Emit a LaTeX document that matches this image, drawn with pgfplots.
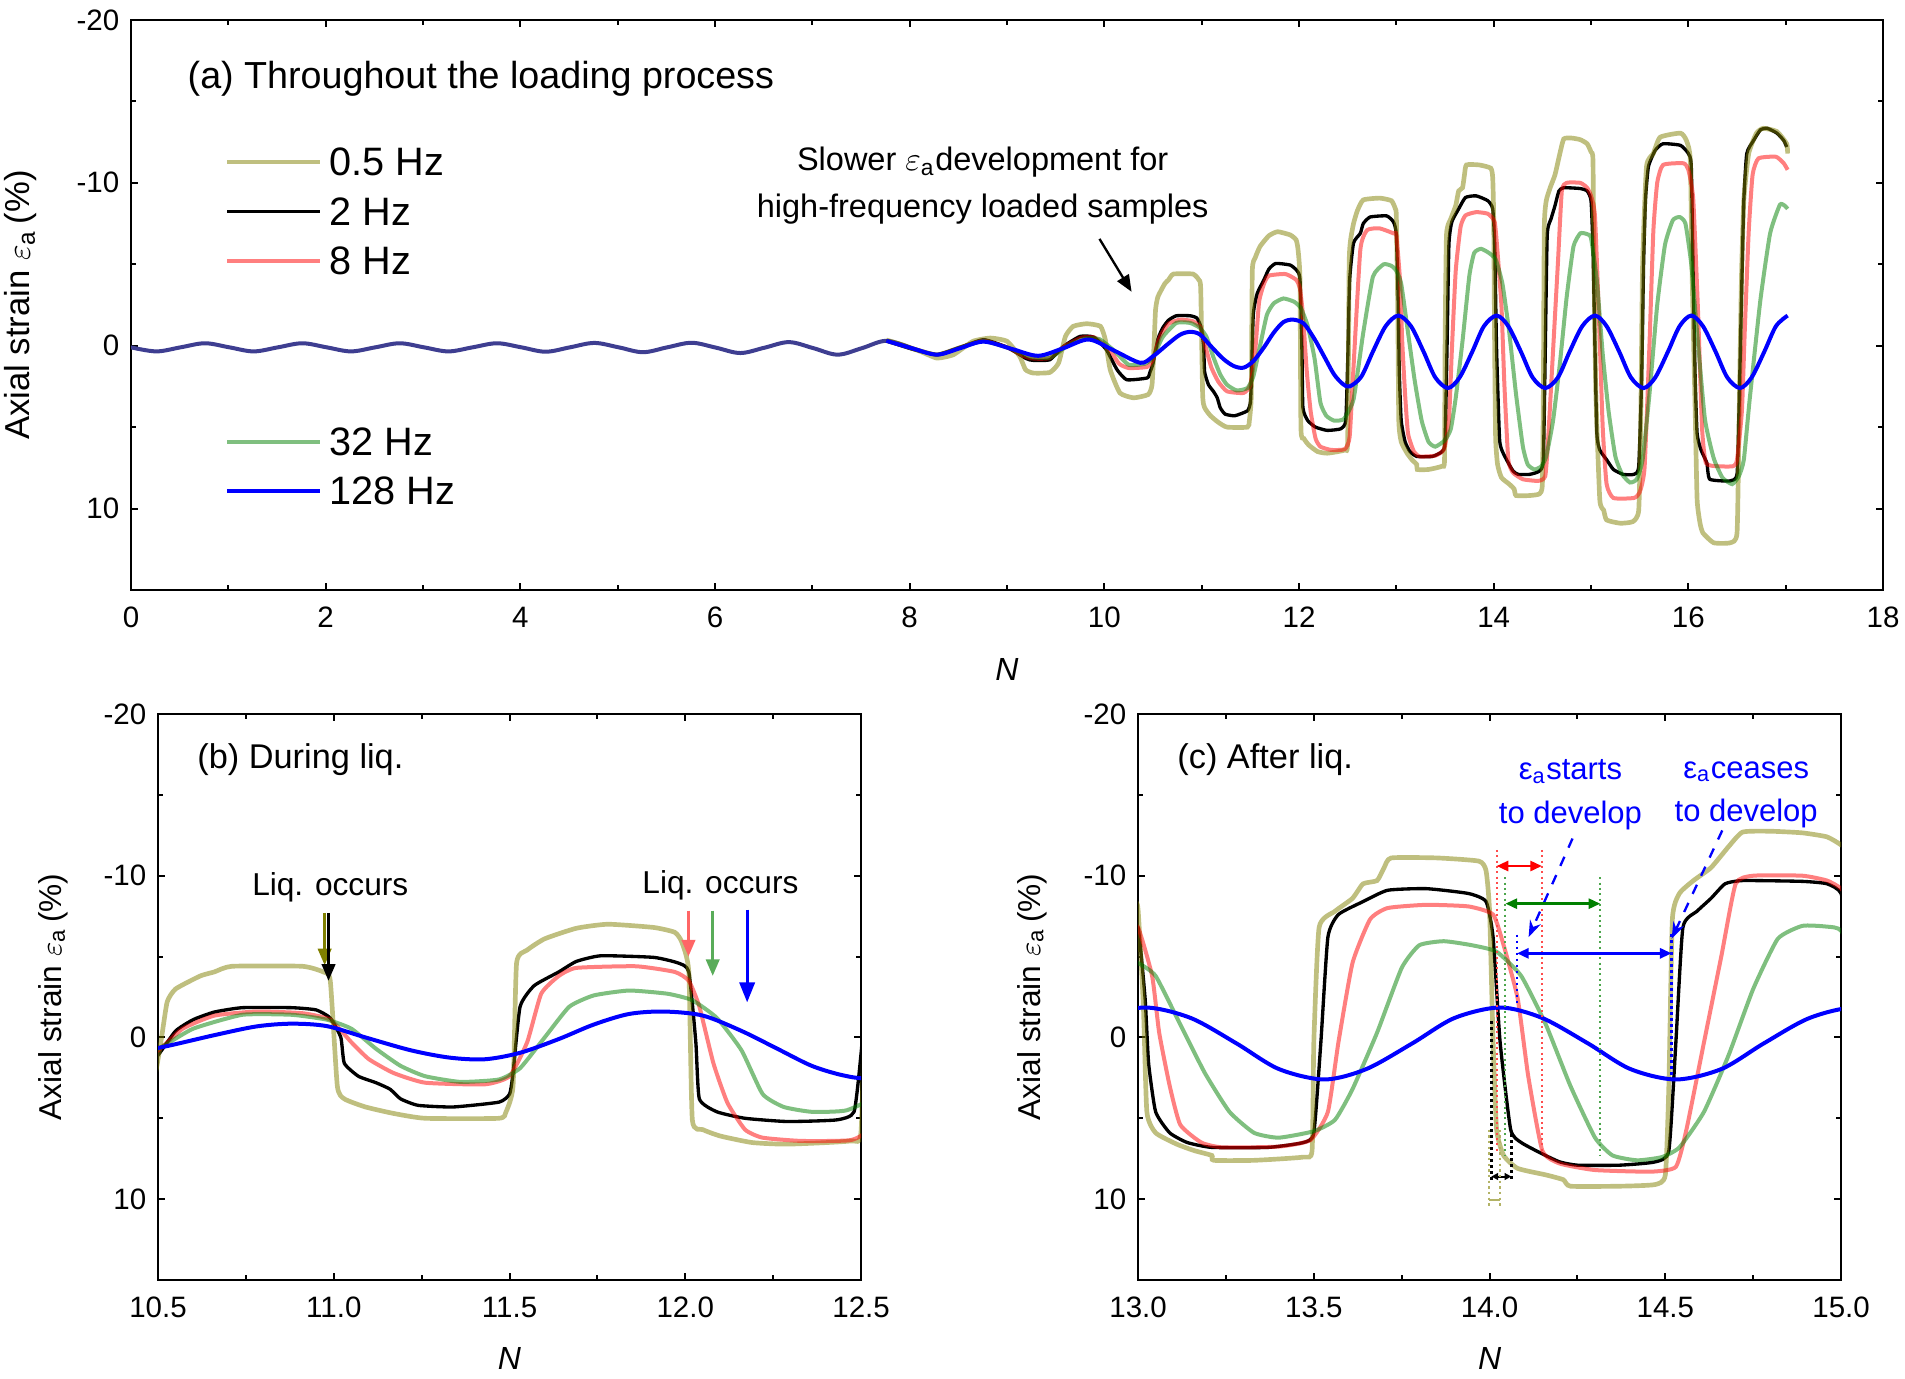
\documentclass[border=0pt]{standalone}
\usepackage{fontspec}
\setmainfont{Liberation Sans}
\usepackage{pgfplots}
\pgfplotsset{compat=1.18}
\usepackage{pgfplotstable}
\usetikzlibrary{arrows.meta}

\definecolor{colO}{RGB}{128,128,0}
\definecolor{colR}{RGB}{255,0,0}
\definecolor{colG}{RGB}{0,128,0}
\definecolor{colB}{RGB}{0,0,255}
\definecolor{colE}{RGB}{62,62,145}

\pgfplotstableread{
N s
0.00 0.10
0.26 0.35
0.51 0.10
0.76 -0.15
1.01 0.10
1.26 0.35
1.51 0.10
1.76 -0.15
2.01 0.10
2.26 0.35
2.51 0.10
2.76 -0.15
3.01 0.10
3.26 0.35
3.51 0.10
3.76 -0.15
4.01 0.10
4.26 0.37
4.51 0.10
4.76 -0.17
5.01 0.10
5.26 0.40
5.51 0.10
5.76 -0.18
6.01 0.12
6.26 0.45
6.51 0.12
6.76 -0.22
7.01 0.15
7.26 0.55
7.51 0.15
7.76 -0.30
8.02 0.15
}\dearly

\pgfplotstableread{
N s
7.76 -0.35
7.90 -0.10
8.11 0.35
8.28 0.76
8.45 0.55
8.65 -0.27
8.83 -0.47
9.00 -0.27
9.13 0.65
9.19 1.47
9.27 1.68
9.44 1.64
9.53 1.06
9.60 -0.57
9.68 -1.19
9.82 -1.35
9.96 -1.19
10.01 -0.37
10.06 1.47
10.16 2.90
10.30 3.20
10.45 3.00
10.49 2.40
10.51 0.00
10.526 -2.20
10.55 -3.00
10.62 -3.80
10.66 -4.05
10.71 -4.40
10.91 -4.40
10.97 -4.05
10.99 -3.50
11.01 3.00
11.03 3.80
11.09 4.30
11.17 4.70
11.26 5.00
11.47 5.00
11.49 4.60
11.51 3.00
11.52 -4.60
11.55 -5.40
11.60 -6.10
11.69 -6.75
11.78 -7.00
11.91 -6.80
11.97 -6.50
11.99 -5.90
12.01 -4.05
12.02 5.10
12.05 5.70
12.10 6.10
12.19 6.50
12.29 6.60
12.47 6.40
12.50 5.80
12.515 -5.00
12.53 -6.50
12.56 -7.50
12.60 -8.30
12.66 -8.95
12.83 -9.06
12.95 -8.90
12.99 -8.40
13.00 -7.90
13.015 -2.00
13.025 4.60
13.05 5.90
13.11 6.60
13.16 7.00
13.21 7.30
13.215 7.60
13.33 7.60
13.47 7.40
13.495 7.00
13.50 0.30
13.515 -6.80
13.56 -7.80
13.61 -8.60
13.64 -9.50
13.68 -9.70
13.70 -10.50
13.72 -11.10
13.85 -11.10
13.97 -10.90
13.99 -10.30
14.00 -7.80
14.01 0.30
14.02 5.70
14.04 7.30
14.08 8.10
14.16 8.50
14.21 8.80
14.23 9.20
14.37 9.20
14.47 9.10
14.50 8.50
14.51 3.00
14.52 -7.30
14.54 -8.90
14.58 -9.70
14.63 -10.50
14.68 -11.80
14.72 -12.70
14.80 -12.75
14.89 -12.65
14.96 -12.40
15.00 -11.90
15.02 -11.40
15.03 -5.00
15.05 3.00
15.09 9.45
15.13 10.10
15.16 10.70
15.30 10.90
15.43 10.80
15.49 10.10
15.51 5.00
15.53 -5.00
15.57 -11.00
15.64 -11.80
15.71 -12.80
15.92 -13.05
15.98 -12.60
16.02 -11.40
16.04 -4.00
16.07 4.00
16.09 9.45
16.12 10.90
16.15 11.50
16.26 12.10
16.43 12.10
16.50 11.50
16.52 5.00
16.545 -4.00
16.57 -8.95
16.62 -11.80
16.70 -13.05
16.77 -13.35
16.91 -13.15
17.01 -12.40
17.02 -11.80
}\dolive

\pgfplotstableread{
N s
7.76 -0.30
8.02 0.20
8.28 0.55
8.52 0.10
8.76 -0.37
9.00 0.10
9.20 0.80
9.27 0.90
9.44 0.86
9.58 0.04
9.75 -0.57
9.89 -0.53
10.02 0.24
10.13 1.47
10.23 2.09
10.44 1.98
10.47 1.60
10.50 1.10
10.55 -0.40
10.60 -1.10
10.66 -1.57
10.74 -1.84
10.88 -1.84
10.95 -1.70
10.99 -1.20
11.02 0.00
11.03 1.60
11.07 2.40
11.12 2.80
11.16 3.20
11.19 3.80
11.24 4.20
11.34 4.30
11.47 4.00
11.50 3.50
11.51 2.20
11.53 -1.90
11.57 -3.20
11.64 -4.05
11.69 -4.70
11.76 -5.05
11.91 -4.95
11.98 -4.60
12.01 -4.05
12.03 0.30
12.04 3.80
12.09 4.60
12.17 5.00
12.29 5.20
12.43 5.10
12.48 4.60
12.50 1.00
12.52 -4.00
12.56 -6.30
12.63 -6.90
12.66 -7.50
12.73 -7.90
12.90 -7.97
12.97 -7.60
13.00 -6.80
13.02 -2.40
13.03 1.60
13.05 4.60
13.09 5.90
13.14 6.50
13.21 6.80
13.37 6.80
13.47 6.50
13.50 5.90
13.52 0.30
13.54 -6.20
13.57 -7.60
13.64 -8.40
13.71 -9.10
13.82 -9.20
13.94 -8.90
13.99 -8.40
14.01 -6.20
14.03 0.30
14.06 5.70
14.09 6.50
14.15 7.20
14.20 7.70
14.25 7.90
14.37 7.90
14.47 7.70
14.51 7.00
14.53 0.30
14.55 -6.80
14.59 -7.80
14.63 -8.60
14.67 -9.50
14.72 -9.70
14.89 -9.65
14.96 -9.50
15.00 -8.90
15.02 -6.00
15.04 0.00
15.06 5.40
15.09 6.40
15.16 7.00
15.23 7.60
15.33 7.90
15.44 7.90
15.49 7.40
15.52 2.00
15.54 -5.00
15.56 -9.00
15.59 -11.00
15.66 -12.00
15.74 -12.40
15.92 -12.30
16.00 -11.80
16.03 -11.00
16.05 -4.00
16.07 2.00
16.09 5.40
16.13 6.40
16.19 7.20
16.22 8.20
16.43 8.30
16.50 7.90
16.52 4.00
16.55 -4.00
16.57 -8.95
16.60 -11.80
16.67 -12.60
16.74 -13.25
16.81 -13.35
16.91 -13.05
16.98 -12.60
17.01 -12.20
}\dblack

\pgfplotstableread{
N s
7.76 -0.30
8.02 0.15
8.28 0.55
8.52 0.10
8.76 -0.30
9.00 0.10
9.20 0.70
9.30 0.80
9.44 0.75
9.60 0.00
9.77 -0.50
9.90 -0.50
10.05 0.20
10.15 1.10
10.25 1.37
10.44 1.30
10.50 0.80
10.57 -0.54
10.66 -1.35
10.78 -1.60
10.91 -1.50
10.99 -1.10
11.05 0.30
11.10 1.35
11.17 2.20
11.26 2.80
11.43 2.90
11.50 2.40
11.55 0.30
11.59 -2.70
11.64 -3.80
11.69 -4.30
11.86 -4.40
11.97 -4.05
12.01 -3.50
12.04 -1.90
12.08 1.60
12.12 4.05
12.17 5.70
12.22 6.20
12.33 6.40
12.47 6.35
12.52 5.60
12.56 1.30
12.63 -5.90
12.70 -7.10
12.83 -7.20
12.97 -6.90
13.00 -6.80
13.04 -3.80
13.06 -0.30
13.09 3.00
13.12 5.40
13.18 6.50
13.24 6.80
13.40 6.75
13.49 6.35
13.54 4.60
13.57 0.30
13.61 -4.60
13.66 -7.30
13.71 -8.00
13.82 -8.20
13.94 -8.10
14.01 -7.60
14.04 -5.70
14.08 -2.40
14.11 2.40
14.15 7.00
14.20 7.80
14.30 8.20
14.46 8.30
14.53 8.00
14.56 5.70
14.61 0.30
14.66 -5.10
14.70 -9.50
14.75 -10.00
14.89 -10.00
14.96 -9.70
15.00 -9.20
15.04 -8.00
15.08 -2.00
15.12 5.00
15.16 8.50
15.23 9.35
15.44 9.35
15.50 9.00
15.55 7.50
15.60 0.00
15.64 -7.00
15.68 -10.00
15.74 -11.10
15.95 -11.20
16.00 -10.80
16.05 -9.00
16.10 -2.00
16.14 5.00
16.18 7.20
16.30 7.40
16.46 7.40
16.50 7.00
16.55 4.00
16.58 -1.00
16.62 -7.00
16.66 -10.50
16.72 -11.50
16.90 -11.60
16.98 -11.20
17.02 -10.80
}\dred

\pgfplotstableread{
N s
7.76 -0.30
8.02 0.15
8.28 0.55
8.52 0.10
8.76 -0.28
9.02 0.15
9.25 0.70
9.45 0.72
9.62 0.00
9.80 -0.45
9.95 -0.40
10.10 0.30
10.25 1.17
10.42 1.10
10.50 0.70
10.60 -0.54
10.74 -1.40
10.88 -1.40
10.98 -1.10
11.05 -0.54
11.12 0.70
11.19 1.76
11.26 2.40
11.36 2.75
11.47 2.60
11.53 1.90
11.60 0.00
11.67 -1.90
11.74 -2.60
11.84 -2.90
11.95 -2.70
12.02 -2.30
12.09 -1.20
12.16 0.80
12.22 3.50
12.28 4.30
12.36 4.60
12.46 4.50
12.56 3.30
12.66 -0.80
12.76 -4.25
12.87 -5.00
12.95 -4.90
13.00 -4.60
13.05 -3.80
13.12 -0.80
13.19 2.20
13.26 4.60
13.33 5.90
13.40 6.20
13.50 5.80
13.56 5.10
13.61 3.20
13.68 -0.30
13.75 -4.30
13.80 -5.70
13.87 -5.95
13.95 -5.70
14.02 -5.30
14.09 -3.80
14.16 -0.80
14.23 3.00
14.30 6.20
14.35 7.30
14.42 7.60
14.49 7.40
14.54 6.80
14.61 4.60
14.68 1.10
14.75 -3.00
14.82 -6.10
14.89 -6.90
14.96 -6.85
15.00 -6.60
15.06 -4.00
15.12 0.50
15.18 4.00
15.25 6.80
15.32 7.90
15.40 8.40
15.47 8.20
15.53 7.00
15.60 3.00
15.68 -2.50
15.76 -6.20
15.84 -7.70
15.91 -7.90
15.97 -7.50
16.03 -5.00
16.09 -0.80
16.17 4.50
16.26 6.90
16.35 8.10
16.45 8.50
16.52 8.00
16.57 7.00
16.63 3.30
16.74 -2.80
16.84 -6.90
16.94 -8.65
16.99 -8.60
17.02 -8.40
}\dgreen

\pgfplotstableread{
N s
7.76 -0.30
8.02 0.15
8.28 0.55
8.52 0.15
8.76 -0.25
9.05 0.20
9.32 0.62
9.58 0.15
9.84 -0.38
10.10 0.30
10.37 1.05
10.50 0.65
10.66 -0.14
10.78 -0.68
10.88 -0.85
10.98 -0.70
11.09 0.00
11.22 0.80
11.33 1.25
11.43 1.35
11.53 0.95
11.64 0.10
11.74 -0.80
11.84 -1.45
11.94 -1.60
12.05 -1.35
12.16 -0.40
12.26 0.68
12.36 1.76
12.45 2.35
12.52 2.50
12.64 1.90
12.76 0.35
12.89 -1.20
13.02 -1.85
13.15 -1.20
13.28 0.37
13.40 1.95
13.53 2.60
13.65 1.95
13.78 0.37
13.90 -1.20
14.03 -1.85
14.15 -1.20
14.28 0.37
14.40 1.95
14.53 2.60
14.66 1.95
14.78 0.37
14.91 -1.20
15.04 -1.85
15.16 -1.20
15.29 0.37
15.41 1.95
15.54 2.60
15.66 1.95
15.79 0.37
15.91 -1.20
16.03 -1.85
16.15 -1.20
16.28 0.37
16.40 1.95
16.53 2.60
16.65 1.95
16.78 0.37
16.90 -1.20
17.02 -1.85
}\dblue

\newcommand{\plotall}{%
  \addplot[colE, line width=1.2pt, smooth, tension=0.55] table {\dearly};
  \addplot[black, line width=1pt, smooth, tension=0.3] table {\dblack};
  \addplot[colO, opacity=0.5, line width=1.4pt, smooth, tension=0.3] table {\dolive};
  \addplot[colR, opacity=0.5, line width=1.2pt, smooth, tension=0.3] table {\dred};
  \addplot[colG, opacity=0.5, line width=1.2pt, smooth, tension=0.3] table {\dgreen};
  \addplot[colB, line width=1.2pt, smooth, tension=0.5] table {\dblue};
}

\pgfplotsset{
  panel/.style={
    scale only axis,
    y dir=reverse,
    ymin=-20, ymax=15,
    ytick={-20,-10,0,10},
    minor y tick num=1,
    minor x tick num=1,
    tick align=inside,
    major tick length=2.2pt,
    minor tick length=1.4pt,
    axis line style={line width=0.6pt},
    every tick/.style={line width=0.6pt, black},
    tick label style={font=\fontsize{8.85}{10}\selectfont},
    xticklabel style={yshift=-1.6pt},
    /pgf/number format/assume math mode=true,
    xlabel={\textit{N}},
  }
}

\begin{document}
\begin{tikzpicture}
\useasboundingbox (0,0) rectangle (571.5pt,413.7pt);

% ---------- panel (a)
\begin{axis}[panel,
  at={(39.3pt,236.7pt)}, anchor=south west,
  width=525.6pt, height=171pt,
  xmin=0, xmax=18, xtick={0,2,...,18},
  ylabel={Axial strain $\varepsilon$\textsubscript{a}\,(\%)},
  ylabel style={at={(axis description cs:-0.0628,0.5)}, anchor=center, font=\fontsize{10.4}{12}\selectfont},
  xlabel style={at={(axis description cs:0.5,-0.139)}, anchor=center, font=\fontsize{9.6}{11}\selectfont},
]
\plotall
\node[anchor=west, font=\fontsize{11.3}{13}\selectfont, inner sep=0pt] at (axis description cs:0.032,0.897) {(a) Throughout the loading process};
% legend
\draw[colO, opacity=0.5, line width=1.4pt] (axis description cs:0.0548,0.751) -- (axis description cs:0.1079,0.751);
\draw[black, line width=1pt] (axis description cs:0.0548,0.664) -- (axis description cs:0.1079,0.664);
\draw[colR, opacity=0.5, line width=1.2pt] (axis description cs:0.0548,0.577) -- (axis description cs:0.1079,0.577);
\draw[colG, opacity=0.5, line width=1.2pt] (axis description cs:0.0548,0.260) -- (axis description cs:0.1079,0.260);
\draw[colB, line width=1.2pt] (axis description cs:0.0548,0.174) -- (axis description cs:0.1079,0.174);
\begin{scope}[every node/.style={anchor=west, font=\fontsize{11.9}{13}\selectfont, inner sep=0pt}]
\node at (axis description cs:0.113,0.751) {0.5 Hz};
\node at (axis description cs:0.113,0.664) {2 Hz};
\node at (axis description cs:0.113,0.577) {8 Hz};
\node at (axis description cs:0.113,0.260) {32 Hz};
\node at (axis description cs:0.113,0.174) {128 Hz};
\end{scope}
\node[align=center, font=\fontsize{9.75}{14.1}\selectfont] at (axis cs:8.75,-9.85) {Slower $\varepsilon$\textsubscript{a}development for\\high-frequency loaded samples};
\draw[-{Triangle[length=5pt,width=4pt]}, line width=0.7pt] (axis cs:9.95,-6.56) -- (axis cs:10.28,-3.31);
\end{axis}

% ---------- panel (b)
\begin{axis}[panel,
  at={(47.4pt,29.7pt)}, anchor=south west,
  width=210.9pt, height=169.8pt,
  xmin=10.5, xmax=12.5, xtick={10.5,11,...,12.5},
  xticklabel style={/pgf/number format/.cd, fixed, fixed zerofill, precision=1},
  ylabel={Axial strain $\varepsilon$\textsubscript{a}\,(\%)},
  ylabel style={at={(axis description cs:-0.149,0.5)}, anchor=center, font=\fontsize{9.5}{11}\selectfont},
  xlabel style={at={(axis description cs:0.5,-0.138)}, anchor=center, font=\fontsize{9.6}{11}\selectfont},
]
\plotall
\node[anchor=west, font=\fontsize{10.3}{12}\selectfont, inner sep=0pt] at (axis cs:10.61,-17.2) {(b) During liq.};
\node[font=\fontsize{9.5}{11}\selectfont] at (axis cs:10.99,-9.3) {Liq. occurs};
\node[font=\fontsize{9.5}{11}\selectfont] at (axis cs:12.10,-9.4) {Liq. occurs};
\draw[-{Triangle[length=5pt,width=4pt]}, colO, line width=0.9pt] (axis cs:10.974,-7.7) -- (axis cs:10.974,-4.46);
\draw[-{Triangle[length=5pt,width=4pt]}, black, line width=0.9pt] (axis cs:10.985,-7.7) -- (axis cs:10.985,-3.5);
\draw[-{Triangle[length=5pt,width=4pt]}, colR!60, line width=0.9pt] (axis cs:12.009,-7.84) -- (axis cs:12.009,-5.0);
\draw[-{Triangle[length=5pt,width=4pt]}, colG!65, line width=0.9pt] (axis cs:12.078,-7.84) -- (axis cs:12.078,-3.8);
\draw[-{Triangle[length=6pt,width=4.5pt]}, colB, line width=1pt] (axis cs:12.176,-7.9) -- (axis cs:12.176,-2.16);
\end{axis}

% ---------- panel (c)
\begin{axis}[panel,
  at={(341.4pt,29.7pt)}, anchor=south west,
  width=210.9pt, height=169.8pt,
  xmin=13, xmax=15, xtick={13,13.5,...,15},
  xticklabel style={/pgf/number format/.cd, fixed, fixed zerofill, precision=1},
  ylabel={Axial strain $\varepsilon$\textsubscript{a}\,(\%)},
  ylabel style={at={(axis description cs:-0.151,0.5)}, anchor=center, font=\fontsize{9.5}{11}\selectfont},
  xlabel style={at={(axis description cs:0.5,-0.138)}, anchor=center, font=\fontsize{9.6}{11}\selectfont},
]
\plotall
\node[anchor=west, font=\fontsize{10.3}{12}\selectfont, inner sep=0pt] at (axis cs:13.11,-17.2) {(c) After liq.};
\node[align=center, text=colB, font=\fontsize{9.3}{13.1}\selectfont] at (axis cs:14.23,-15.0) {ε\textsubscript{a}starts\\to develop};
\node[align=center, text=colB, font=\fontsize{9.3}{13.1}\selectfont] at (axis cs:14.73,-15.0) {ε\textsubscript{a}ceases\\to develop};
\draw[-{Stealth[length=5pt,width=3.5pt]}, colB, dashed, line width=0.7pt] (axis cs:14.236,-12.3) -- (axis cs:14.111,-6.2);
\draw[-{Stealth[length=5pt,width=3.5pt]}, colB, dashed, line width=0.7pt] (axis cs:14.662,-12.8) -- (axis cs:14.518,-6.1);
% red
\draw[colR!70, densely dotted, line width=0.6pt] (axis cs:14.02,-11.6) -- (axis cs:14.02,7.0);
\draw[colR!70, densely dotted, line width=0.6pt] (axis cs:14.149,-11.6) -- (axis cs:14.149,7.0);
\draw[{Triangle[length=3.5pt,width=3pt]}-{Triangle[length=3.5pt,width=3pt]}, colR, line width=0.8pt] (axis cs:14.02,-10.6) -- (axis cs:14.149,-10.6);
% green
\draw[colG!70, densely dotted, line width=0.6pt] (axis cs:14.045,-9.9) -- (axis cs:14.045,7.3);
\draw[colG!70, densely dotted, line width=0.6pt] (axis cs:14.315,-9.9) -- (axis cs:14.315,7.3);
\draw[{Triangle[length=3.5pt,width=3pt]}-{Triangle[length=3.5pt,width=3pt]}, colG, line width=0.8pt] (axis cs:14.045,-8.27) -- (axis cs:14.315,-8.27);
% blue
\draw[colB, densely dotted, line width=0.8pt] (axis cs:14.078,-6.35) -- (axis cs:14.078,-2.0);
\draw[colB, densely dotted, line width=0.8pt] (axis cs:14.518,-6.4) -- (axis cs:14.518,2.4);
\draw[{Triangle[length=3.5pt,width=3pt]}-{Triangle[length=3.5pt,width=3pt]}, colB, line width=0.8pt] (axis cs:14.078,-5.2) -- (axis cs:14.518,-5.2);
% black
\draw[black, densely dotted, line width=0.8pt] (axis cs:14.005,-1.0) -- (axis cs:14.005,8.9);
\draw[black, densely dotted, line width=0.8pt] (axis cs:14.062,6.0) -- (axis cs:14.062,8.9);
\draw[{Triangle[length=2pt,width=2pt]}-{Triangle[length=2pt,width=2pt]}, black, line width=0.6pt] (axis cs:14.005,8.6) -- (axis cs:14.062,8.6);
% olive
\draw[colO!60, densely dotted, line width=0.7pt] (axis cs:13.998,5.7) -- (axis cs:13.998,10.5);
\draw[colO!60, densely dotted, line width=0.7pt] (axis cs:14.029,5.7) -- (axis cs:14.029,10.5);
\draw[colO!60, line width=0.8pt] (axis cs:13.998,10.05) -- (axis cs:14.029,10.05);
\end{axis}
\end{tikzpicture}
\end{document}
